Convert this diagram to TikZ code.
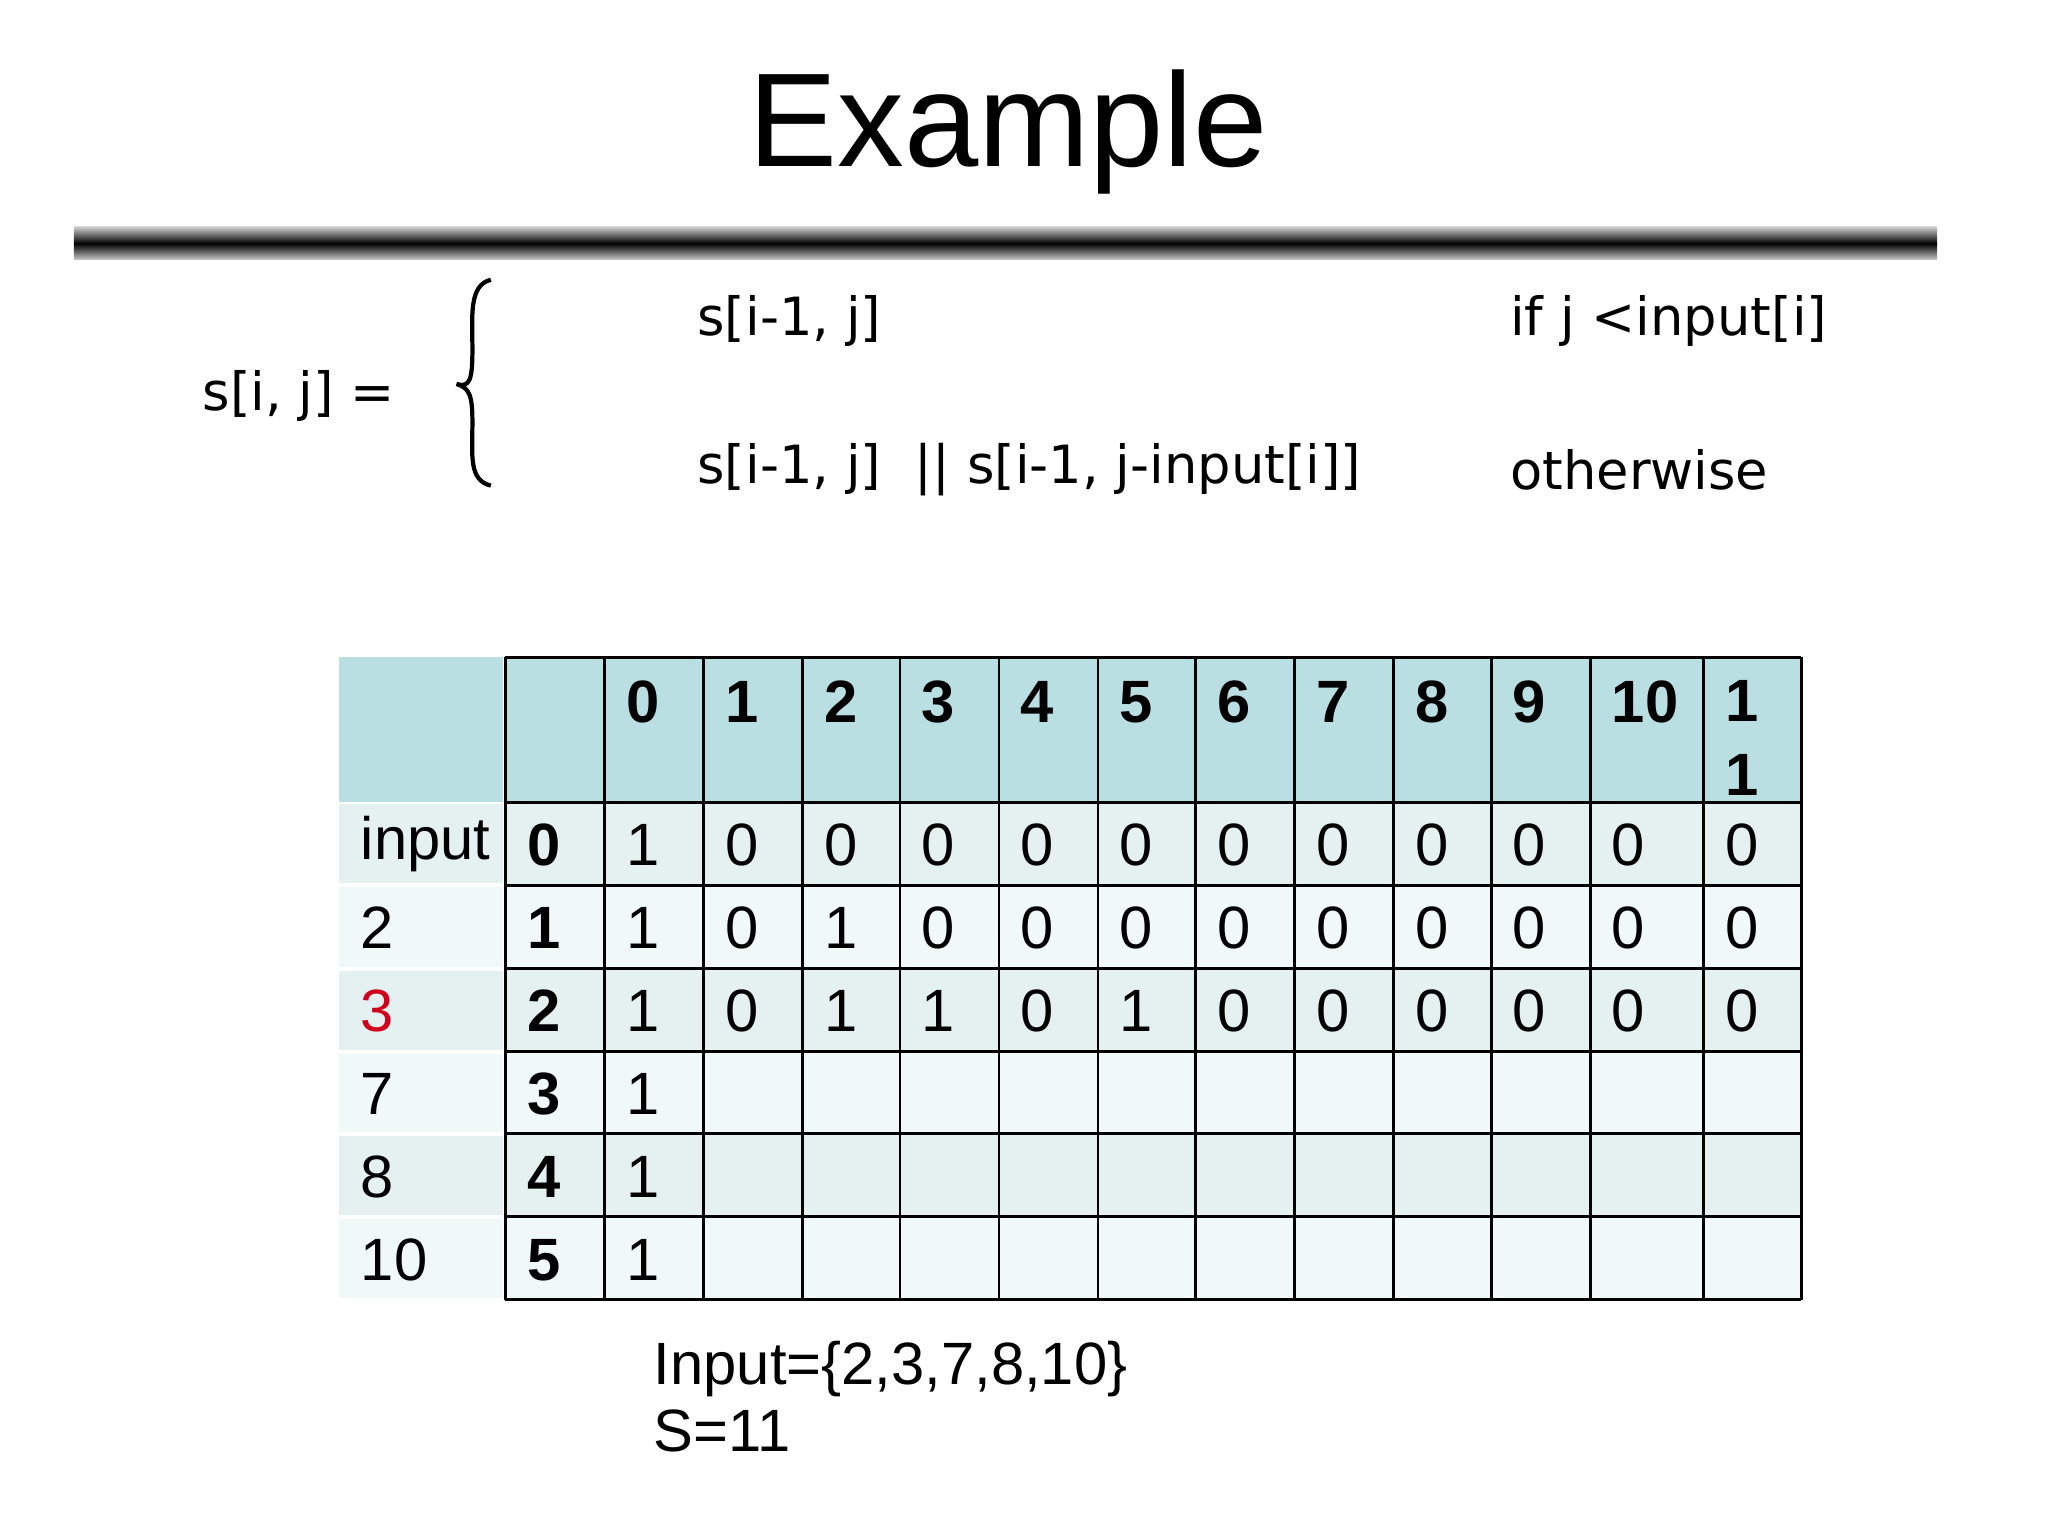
\documentclass[tikz,border=0pt]{standalone}
\usepackage{fontspec}
\setmainfont{Liberation Sans}
\newfontfamily\handfont{DejaVu Sans}
\usetikzlibrary{positioning}
\definecolor{headfill}{HTML}{B9DFE2}
\definecolor{rowdark}{HTML}{E5F0F1}
\definecolor{rowlight}{HTML}{F1F8F8}
\definecolor{inred}{HTML}{D0021B}

\begin{document}
\begin{tikzpicture}[
    x=0.013196cm, y=-0.013196cm, % pixel grid of the slide
    cell/.style={anchor=west, inner sep=0pt, font=\fontsize{17}{19}\selectfont},
    headcell/.style={cell, font=\fontsize{17}{22}\selectfont\bfseries},
    formula/.style={anchor=west, inner sep=0pt, font=\handfont\fontsize{15}{17}\selectfont}
  ]
  \useasboundingbox (0,0) rectangle (1552,1164);
  %% title and bar
  \node[font=\fontsize{38}{40}\selectfont] (title) at (764,100) {Example};
  \shade[top color=gray!40, bottom color=gray!40, middle color=black] (56,172) rectangle (1468,197);
  %% recurrence
  \node[formula] (lhs) at (153,300) {s[i, j] =};
  \draw[line width=1.2pt] (372,212) .. controls (355,216) and (358,240) .. (358,265)
     .. controls (358,288) and (356,294) .. (346,291)
     .. controls (356,294) and (358,300) .. (358,320)
     .. controls (358,345) and (355,364) .. (372,368);
  \node[formula] (case1) at (528,243) {s[i-1, j]};
  \node[formula] (cond1) at (1144,243) {if j <input[i]};
  \node[formula] (case2) at (528,356) {s[i-1, j]\ \ || s[i-1, j-input[i]]};
  \node[formula] (cond2) at (1144,356) {otherwise};
  %% table fills
  \fill[headfill] (257,498) rectangle (381,608);
  \fill[headfill] (383,498) rectangle (1365,608);
  \foreach \top/\bot [count=\r] in {608/671,671/734,734/797,797/859,859/922,922/985} {
    \pgfmathtruncatemacro\shadeid{mod(\r,2)}
    \ifnum\shadeid=1 \def\rc{rowdark}\else\def\rc{rowlight}\fi
    \fill[\rc] (257,\top+1.5) rectangle (381,\bot-1.5);
    \fill[\rc] (383,\top) rectangle (1365,\bot);
  }
  %% grid
  \foreach \x in {383,458,533,608,682,757,832,906,981,1056,1130,1205,1291,1365}
    \draw[line width=0.8pt] (\x,498) -- (\x,985);
  \foreach \y in {498,608,671,734,797,859,922,985}
    \draw[line width=0.8pt] (383,\y) -- (1365,\y);
  %% header
  \foreach \x/\v [count=\c] in {474/0,549/1,624/2,698/3,773/4,848/5,922/6,997/7,1072/8,1146/9,1221/10}
    \node[headcell] (h\c) at (\x,532) {\v};
  \node[headcell, anchor=north west, align=left] (h12) at (1307,515) {1\\[-1pt]1};
  %% rows: input value, index, entries
  \foreach \inp/\idx/\vals [count=\r] in {
      input/0/{1,0,0,0,0,0,0,0,0,0,0,0},
      2/1/{1,0,1,0,0,0,0,0,0,0,0,0},
      \textcolor{inred}{3}/2/{1,0,1,1,0,1,0,0,0,0,0,0},
      7/3/{1},
      8/4/{1},
      10/5/{1}} {
    \pgfmathsetmacro\yy{608+63*(\r-1)+32}
    \node[cell] (in\r) at (273,\yy) {\inp};
    \node[cell, font=\fontsize{17}{19}\selectfont\bfseries] (ix\r) at (399,\yy) {\idx};
    \foreach \v [count=\c] in \vals {
      \pgfmathsetmacro\xx{{474,549,624,698,773,848,922,997,1072,1146,1221,1307}[\c-1]}
      \node[cell] (v\r-\c) at (\xx,\yy) {\v};
    }
  }
  %% problem data
  \node[cell, anchor=north west, align=left] (data) at (495,1016) {Input=\{2,3,7,8,10\}\\S=11};
\end{tikzpicture}
\end{document}
